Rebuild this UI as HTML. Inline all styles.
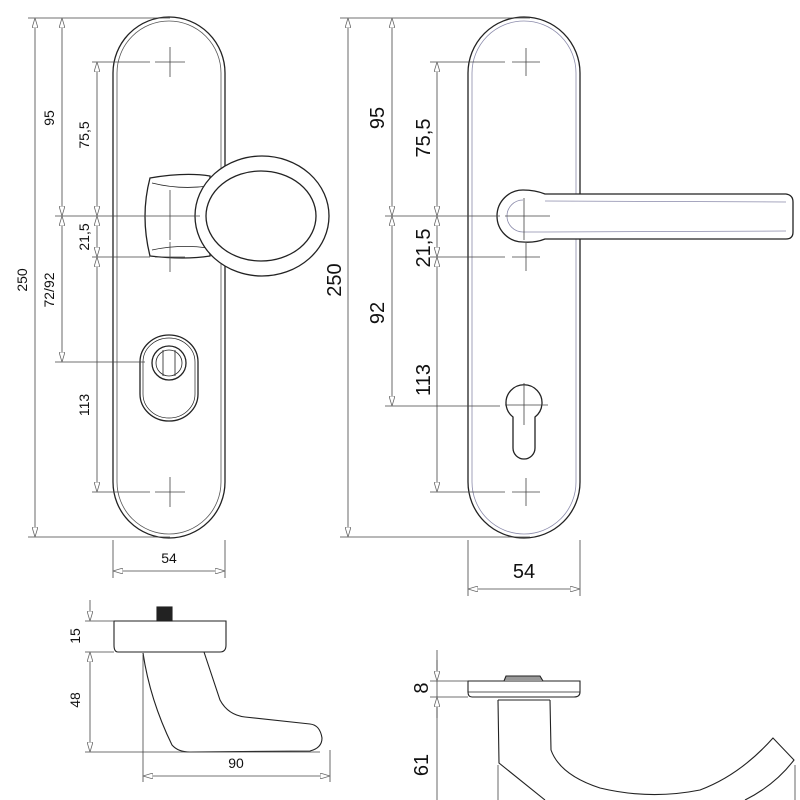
<!DOCTYPE html>
<html><head><meta charset="utf-8"><style>html,body{margin:0;padding:0;background:#fff}svg{display:block}</style></head><body>
<svg width="800" height="800" viewBox="0 0 800 800" xmlns="http://www.w3.org/2000/svg" font-family="Liberation Sans, sans-serif">
<defs>
<marker id="a" viewBox="0 0 10 6" refX="10" refY="3" markerWidth="10" markerHeight="6" orient="auto-start-reverse" markerUnits="userSpaceOnUse"><path d="M0,0 L10,3 L0,6 Z" fill="#fff" stroke="#666" stroke-width="0.8"/></marker>
</defs>
<g fill="none" stroke="#222" stroke-width="1.3">
<path d="M113,73 A56,56 0 0 1 225,73 L225,482 A56,56 0 0 1 113,482 Z"/>
<path d="M117,73 A52,52 0 0 1 221,73 L221,482 A52,52 0 0 1 117,482 Z" stroke="#555" stroke-width="0.8"/>
<path d="M150,178 Q185,172 210,176 L210,256 Q185,260 150,256 Q140,216 150,178 Z" fill="#fff"/>
<path d="M152,183 Q180,190 208,186 M152,250 Q180,244 208,248" stroke-width="0.8"/>
<ellipse cx="262" cy="216" rx="67" ry="60" fill="#fff"/>
<ellipse cx="261" cy="216" rx="55" ry="45"/>
<path d="M140,362 A29,27 0 0 1 198,362 L198,394 A29,27 0 0 1 140,394 Z"/>
<path d="M143,362 A26,24 0 0 1 195,362 L195,394 A26,24 0 0 1 143,394 Z" stroke-width="0.7"/>
<circle cx="169" cy="363" r="17"/><circle cx="169" cy="363" r="13" stroke-width="0.8"/>
<path d="M163,350 V376 M175,350 V376" stroke-width="0.8"/>
</g>
<g fill="none" stroke="#444" stroke-width="0.8">
<path d="M155,62 H185 M170,47 V77 M155,492 H185 M170,477 V507 M155,257 H185 M170,242 V272 M170,190 V240"/>
<path d="M28,18 H170 M28,537 H170 M55,216 H200 M55,362 H145 M92,62 H150 M92,257 H150 M92,492 H150"/>
<path d="M113,540 V578 M225,540 V578"/>
<line x1="35" y1="18" x2="35" y2="537" marker-start="url(#a)" marker-end="url(#a)"/>
<line x1="62" y1="18" x2="62" y2="216" marker-start="url(#a)" marker-end="url(#a)"/>
<line x1="62" y1="216" x2="62" y2="362" marker-start="url(#a)" marker-end="url(#a)"/>
<line x1="97" y1="62" x2="97" y2="216" marker-start="url(#a)" marker-end="url(#a)"/>
<line x1="97" y1="216" x2="97" y2="257" marker-start="url(#a)" marker-end="url(#a)"/>
<line x1="97" y1="257" x2="97" y2="492" marker-start="url(#a)" marker-end="url(#a)"/>
<line x1="113" y1="571" x2="225" y2="571" marker-start="url(#a)" marker-end="url(#a)"/>
</g>
<g font-size="14" fill="#111">
<text transform="translate(27,280) rotate(-90)" text-anchor="middle">250</text>
<text transform="translate(54,118) rotate(-90)" text-anchor="middle">95</text>
<text transform="translate(54,290) rotate(-90)" text-anchor="middle">72/92</text>
<text transform="translate(89,135) rotate(-90)" text-anchor="middle">75,5</text>
<text transform="translate(89,237) rotate(-90)" text-anchor="middle">21,5</text>
<text transform="translate(89,405) rotate(-90)" text-anchor="middle">113</text>
<text x="169" y="563" text-anchor="middle">54</text>
</g>
<g fill="none" stroke="#222" stroke-width="1.3">
<path d="M468,73 A56,56 0 0 1 580,73 L580,482 A56,56 0 0 1 468,482 Z"/>
<path d="M472,73 A52,52 0 0 1 576,73 L576,482 A52,52 0 0 1 472,482 Z" stroke="#8a8aaa" stroke-width="0.8"/>
<path d="M523,190 Q535,190 545,194 L786,194 Q793,195 793,202 L793,232 Q793,239 786,239 L545,239 Q535,243 523,242 A26,26 0 0 1 523,190 Z" fill="#fff"/>
<path d="M523,200 A16,16 0 0 0 523,232 L545,232 L786,231 M545,201 L786,202" stroke="#8a8aaa" stroke-width="0.8"/>
<path d="M513,417 A18,18 0 1 1 535,417 L535,448 A11,11 0 0 1 513,448 Z"/>
</g>
<g fill="none" stroke="#444" stroke-width="0.8">
<path d="M512,62 H540 M526,48 V76 M512,492 H540 M526,478 V506 M512,257 H540 M526,243 V271 M524,198 V240 M505,216 H550 M505,405 H548 M524,383 V425"/>
<path d="M340,18 H530 M340,537 H530 M385,216 H500 M385,406 H500 M430,62 H505 M430,257 H505 M430,492 H505"/>
<path d="M468,540 V596 M580,540 V596"/>
<line x1="348" y1="18" x2="348" y2="537" marker-start="url(#a)" marker-end="url(#a)"/>
<line x1="392" y1="18" x2="392" y2="216" marker-start="url(#a)" marker-end="url(#a)"/>
<line x1="392" y1="216" x2="392" y2="406" marker-start="url(#a)" marker-end="url(#a)"/>
<line x1="437" y1="62" x2="437" y2="216" marker-start="url(#a)" marker-end="url(#a)"/>
<line x1="437" y1="216" x2="437" y2="257" marker-start="url(#a)" marker-end="url(#a)"/>
<line x1="437" y1="257" x2="437" y2="492" marker-start="url(#a)" marker-end="url(#a)"/>
<line x1="468" y1="589" x2="580" y2="589" marker-start="url(#a)" marker-end="url(#a)"/>
</g>
<g font-size="20" fill="#111">
<text transform="translate(341,280) rotate(-90)" text-anchor="middle">250</text>
<text transform="translate(384,118) rotate(-90)" text-anchor="middle">95</text>
<text transform="translate(384,313) rotate(-90)" text-anchor="middle">92</text>
<text transform="translate(430,138) rotate(-90)" text-anchor="middle">75,5</text>
<text transform="translate(430,248) rotate(-90)" text-anchor="middle">21,5</text>
<text transform="translate(430,380) rotate(-90)" text-anchor="middle">113</text>
<text x="524" y="578" text-anchor="middle">54</text>
</g>
<g fill="none" stroke="#222" stroke-width="1.1">
<path d="M114,621 H226 V645 Q226,652 220,652 H118 Q114,652 114,645 Z"/>
<rect x="157" y="607" width="15" height="14" fill="#222"/>
<path d="M143,653 Q150,700 172,745 Q178,752 190,752 L310,751 Q322,748 322,738 Q320,725 310,724 L245,717 Q228,715 220,700 L204,652"/>
</g>
<g fill="none" stroke="#444" stroke-width="0.8">
<path d="M85,621 H114 M85,652 H114 M85,752 H320 M143,655 V782 M330,750 V782"/>
<line x1="90" y1="600" x2="90" y2="621" marker-end="url(#a)"/>
<line x1="90" y1="652" x2="90" y2="752" marker-start="url(#a)" marker-end="url(#a)"/>
<line x1="143" y1="776" x2="330" y2="776" marker-start="url(#a)" marker-end="url(#a)"/>
</g>
<g font-size="14" fill="#111">
<text transform="translate(80,636) rotate(-90)" text-anchor="middle">15</text>
<text transform="translate(80,700) rotate(-90)" text-anchor="middle">48</text>
<text x="236" y="768" text-anchor="middle">90</text>
</g>
<g fill="none" stroke="#222" stroke-width="1.1">
<path d="M468,681 H580 V692 Q580,697 574,697 H472 Q468,697 468,692 Z"/>
<path d="M468,692 H580" stroke-width="0.7"/>
<path d="M504,681 L506,676 H540 L543,681" fill="#999"/>
<path d="M498,700 H550"/>
<path d="M498,700 L499,763 L545,800"/>
<path d="M550,700 L551,750 Q560,775 600,788 Q650,800 700,790 Q740,775 773,738 L794,760 Q775,785 745,800"/>
</g>
<g fill="none" stroke="#444" stroke-width="0.8">
<path d="M430,681 H468 M430,697 H468 M437,650 V800 M498,765 V800 M795,765 V800"/>
<line x1="437" y1="660" x2="437" y2="681" marker-end="url(#a)"/>
<line x1="437" y1="718" x2="437" y2="697" marker-end="url(#a)"/>
</g>
<g font-size="20" fill="#111">
<text transform="translate(428,688) rotate(-90)" text-anchor="middle">8</text>
<text transform="translate(428,765) rotate(-90)" text-anchor="middle">61</text>
</g>
</svg>
</body></html>
